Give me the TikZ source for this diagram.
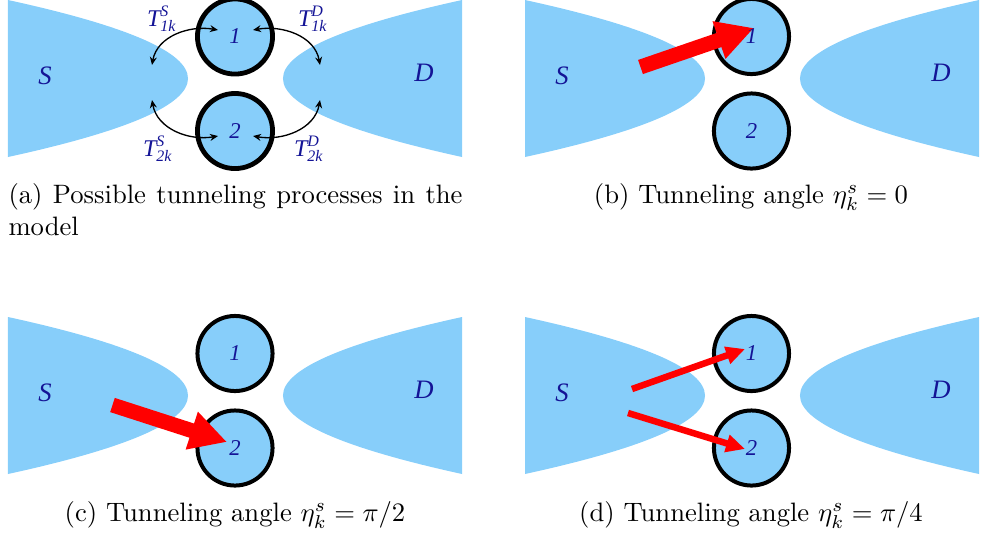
\documentclass[tikz,border=0pt]{standalone}
\usepackage{amsmath,amssymb}
\usepackage{fontspec}
\usepackage{xcolor}
\usetikzlibrary{arrows.meta}
\newfontfamily\tms{Liberation Serif}
\definecolor{leadblue}{RGB}{135,206,250}
\definecolor{labblue}{RGB}{20,20,150}
\newcommand{\tl}[1]{\text{\tms\itshape #1}}
\tikzset{
  lead/.style={fill=leadblue},
  dot/.style={circle,draw=black,line width=1.5pt,fill=leadblue,minimum size=28.2pt,inner sep=0pt},
  num/.style={text=labblue,inner sep=0pt,font=\fontsize{8.5}{10}\selectfont\tms\itshape},
  elec/.style={text=labblue,font=\fontsize{10}{12}\selectfont\tms\itshape},
  tlab/.style={text=labblue,inner sep=0pt,font=\fontsize{9}{11}\selectfont},
  hop/.style={{Stealth[length=3pt,width=2.6pt]}-{Stealth[length=3pt,width=2.6pt]},line width=0.5pt},
  bigarrow/.style={red,line width=5.6pt,-{Triangle[length=13.9pt,width=13.9pt]}},
  thinarrow/.style={red,line width=2.45pt,-{Triangle[length=7.1pt,width=6.4pt]}},
  captext/.style={inner sep=0pt}
}

\begin{document}
\begin{tikzpicture}[x=0.0132cm,y=0.0132cm]
\useasboundingbox (0,0) rectangle (982,-539);

% (a) tunneling processes
\begin{scope}[shift={(8,0)},name prefix=a-]
\fill[lead] (0,0) .. controls (240,-52.3) and (240,-104.7) .. (0,-157) -- cycle;
\fill[lead] (454,0) .. controls (215.3,-52.3) and (215.3,-104.7) .. (454,-157) -- cycle;
\node[elec] (S) at (37,-76) {S};
\node[elec] (D) at (416,-73) {D};
\node[dot,line width=1.8pt] (d1) at (227,-36.5) {};
\node[dot,line width=1.8pt] (d2) at (227,-131) {};
\node[num] (n1) at (d1) {1};
\node[num] (n2) at (d2) {2};
\coordinate (s1) at (144,-65);
\coordinate (s2) at (144,-100);
\coordinate (r1) at (312,-65);
\coordinate (r2) at (312,-100);
\coordinate (p1) at (210,-30);
\coordinate (p2) at (210,-136);
\coordinate (q1) at (245,-30);
\coordinate (q2) at (245,-136);
\draw[hop] (s1) to[out=80,in=170] (p1);
\draw[hop] (q1) to[out=10,in=100] (r1);
\draw[hop] (s2) to[out=-80,in=190] (p2);
\draw[hop] (q2) to[out=-10,in=-100] (r2);
\node[tlab] (t1s) at (154,-19) {$\tl{T}^{\tl{S}}_{\tl{1k}}$};
\node[tlab] (t1d) at (305,-19) {$\tl{T}^{\tl{D}}_{\tl{1k}}$};
\node[tlab] (t2s) at (150,-149) {$\tl{T}^{\tl{S}}_{\tl{2k}}$};
\node[tlab] (t2d) at (301,-149) {$\tl{T}^{\tl{D}}_{\tl{2k}}$};
\end{scope}

% (b) eta = 0
\begin{scope}[shift={(525,0)},name prefix=b-]
\fill[lead] (0,0) .. controls (240,-52.3) and (240,-104.7) .. (0,-157) -- cycle;
\fill[lead] (454,0) .. controls (215.3,-52.3) and (215.3,-104.7) .. (454,-157) -- cycle;
\node[elec] (S) at (37,-76) {S};
\node[elec] (D) at (416,-73) {D};
\node[dot] (d1) at (226.5,-36.5) {};
\node[dot] (d2) at (226.5,-131) {};
\coordinate (tail) at (115.5,-67);
\coordinate (tip) at (229,-28);
\draw[bigarrow] (tail) -- (tip);
\node[num] (n1) at (d1) {1};
\node[num] (n2) at (d2) {2};
\end{scope}

% (c) eta = pi/2
\begin{scope}[shift={(8,-317)},name prefix=c-]
\fill[lead] (0,0) .. controls (240,-52.3) and (240,-104.7) .. (0,-157) -- cycle;
\fill[lead] (454,0) .. controls (215.3,-52.3) and (215.3,-104.7) .. (454,-157) -- cycle;
\node[elec] (S) at (37,-76) {S};
\node[elec] (D) at (416,-73) {D};
\node[dot] (d1) at (227,-36.5) {};
\node[dot] (d2) at (227,-131) {};
\coordinate (tail) at (104.5,-88);
\coordinate (tip) at (219,-125);
\draw[bigarrow] (tail) -- (tip);
\node[num] (n1) at (d1) {1};
\node[num] (n2) at (d2) {2};
\end{scope}

% (d) eta = pi/4
\begin{scope}[shift={(525,-317)},name prefix=d-]
\fill[lead] (0,0) .. controls (240,-52.3) and (240,-104.7) .. (0,-157) -- cycle;
\fill[lead] (454,0) .. controls (215.3,-52.3) and (215.3,-104.7) .. (454,-157) -- cycle;
\node[elec] (S) at (37,-76) {S};
\node[elec] (D) at (416,-73) {D};
\node[dot] (d1) at (226.5,-36.5) {};
\node[dot] (d2) at (226.5,-131) {};
\coordinate (tail1) at (107,-72);
\coordinate (tip1) at (220,-32);
\coordinate (tail2) at (103,-96);
\coordinate (tip2) at (220,-132);
\draw[thinarrow] (tail1) -- (tip1);
\draw[thinarrow] (tail2) -- (tip2);
\node[num] (n1) at (d1) {1};
\node[num] (n2) at (d2) {2};
\end{scope}

\node[captext,anchor=base west] (capa) at (8,-203) {\makebox[170.5pt][s]{(a) Possible tunneling processes in the}};
\node[captext,anchor=base west] (capa2) at (8,-235) {model};
\node[captext,anchor=base] (capb) at (751,-203) {(b) Tunneling angle $\eta_k^s=0$};
\node[captext,anchor=base] (capc) at (235,-521) {(c) Tunneling angle $\eta_k^s=\pi/2$};
\node[captext,anchor=base] (capd) at (751,-521) {(d) Tunneling angle $\eta_k^s=\pi/4$};
\end{tikzpicture}
\end{document}
